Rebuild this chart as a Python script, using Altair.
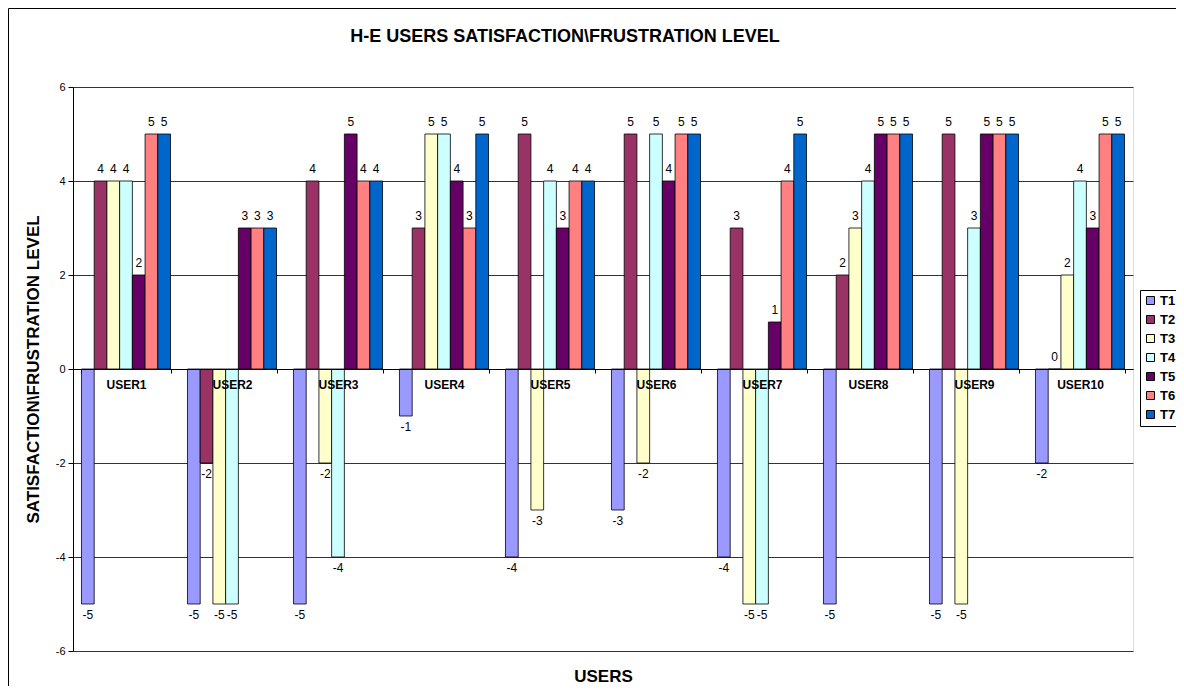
import altair as alt
import pandas as pd

users = ["USER1", "USER2", "USER3", "USER4", "USER5", "USER6", "USER7", "USER8", "USER9", "USER10"]
series = ["T1", "T2", "T3", "T4", "T5", "T6", "T7"]
T1 = [-5, -5, -5, -1, -4, -3, -4, -5, -5, -2]
T2 = [4, -2, 4, 3, 5, 5, 3, 2, 5, 0]
T3 = [4, -5, -2, 5, -3, -2, -5, 3, -5, 2]
T4 = [4, -5, -4, 5, 4, 5, -5, 4, 3, 4]
T5 = [2, 3, 5, 4, 3, 4, 1, 5, 5, 3]
T6 = [5, 3, 4, 3, 4, 5, 4, 5, 5, 5]
T7 = [5, 3, 4, 5, 4, 5, 5, 5, 5, 5]
colors = ["#9999FF", "#993366", "#FFFFCC", "#CCFFFF", "#660066", "#FF8080", "#0066CC"]
y_ticks = [-6, -4, -2, 0, 2, 4, 6]

vals = {"T1": T1, "T2": T2, "T3": T3, "T4": T4, "T5": T5, "T6": T6, "T7": T7}
rows = []
for s in series:
    for u, v in zip(users, vals[s]):
        rows.append({"user": u, "series": s, "value": v})
df = pd.DataFrame(rows)

FONT = "Liberation Sans"
W, H = 1060, 564

x_enc = alt.X(
    "user:N",
    sort=users,
    scale=alt.Scale(paddingInner=0.16, paddingOuter=0.08),
    axis=alt.Axis(
        title="USERS",
        offset=-H / 2,
        domainColor="#000000",
        domainWidth=1,
        tickColor="#000000",
        tickSize=4,
        tickBand="extent",
        labelAngle=0,
        labelFont=FONT,
        labelFontSize=12,
        labelFontWeight="bold",
        labelColor="#000000",
        labelPadding=6,
        titleFont=FONT,
        titleFontSize=17,
        titleFontWeight="bold",
        titleColor="#000000",
        titleY=H / 2 + 25,
        titleBaseline="middle",
        zindex=1,
        grid=False,
    ),
)
xo_enc = alt.XOffset("series:N", sort=series, scale=alt.Scale(paddingInner=0, paddingOuter=0))
y_scale = alt.Scale(domain=[-6, 6], nice=False)

bars = alt.Chart(df).mark_bar(stroke="#000000", strokeWidth=0.8).encode(
    x=x_enc,
    xOffset=xo_enc,
    y=alt.Y(
        "value:Q",
        scale=y_scale,
        axis=alt.Axis(
            title="SATISFACTION\\FRUSTRATION LEVEL",
            values=y_ticks,
            labelExpr="'' + datum.value",
            grid=True,
            gridColor="#333333",
            gridWidth=1,
            domainColor="#000000",
            tickColor="#000000",
            tickSize=5,
            labelFont=FONT,
            labelFontSize=11,
            labelColor="#000000",
            labelPadding=3,
            titleFont=FONT,
            titleFontSize=17,
            titleFontWeight="bold",
            titleColor="#000000",
            titleX=-40,
            titleY=H / 2,
            titleAngle=270,
            titleAlign="center",
            titleBaseline="middle",
        ),
    ),
    y2=alt.datum(0),
    color=alt.Color(
        "series:N",
        sort=series,
        scale=alt.Scale(domain=series, range=colors),
        legend=alt.Legend(
            title=None,
            orient="none",
            legendX=1067,
            legendY=203,
            strokeColor="#000000",
            fillColor="#FFFFFF",
            padding=4,
            symbolType="square",
            symbolSize=64,
            symbolStrokeColor="#000000",
            symbolStrokeWidth=1,
            labelFont=FONT,
            labelFontSize=13,
            labelFontWeight="bold",
            labelColor="#000000",
            labelOffset=3,
            rowPadding=5,
        ),
    ),
)

pos_labels = alt.Chart(df).transform_filter("datum.value >= 0").transform_calculate(
    lbl="'' + datum.value"
).mark_text(
    font=FONT, fontSize=12, color="#000000", baseline="bottom", dy=-5
).encode(
    x=alt.X("user:N", sort=users),
    xOffset=alt.XOffset("series:N", sort=series),
    y=alt.Y("value:Q", scale=y_scale),
    text="lbl:N",
)

neg_labels = alt.Chart(df).transform_filter("datum.value < 0").transform_calculate(
    lbl="'' + datum.value"
).mark_text(
    font=FONT, fontSize=12, color="#000000", baseline="top", dy=6
).encode(
    x=alt.X("user:N", sort=users),
    xOffset=alt.XOffset("series:N", sort=series),
    y=alt.Y("value:Q", scale=y_scale),
    text="lbl:N",
)

frame = alt.Chart(alt.Data(values=[{"a": 1}])).mark_rect(
    fillOpacity=0, stroke="#000000", strokeWidth=1
).encode(
    x=alt.value(-64.5), x2=alt.value(1200), y=alt.value(-78.5), y2=alt.value(700)
)

chart = alt.layer(frame, bars, pos_labels, neg_labels).properties(
    width=W,
    height=H,
    autosize=alt.AutoSizeParams(type="none"),
    padding={"left": 65, "top": 79, "right": 43, "bottom": 35},
    title=alt.TitleParams(
        "H-E USERS SATISFACTION\\FRUSTRATION LEVEL",
        font=FONT,
        fontSize=18,
        fontWeight="bold",
        color="#000000",
        anchor="middle",
        frame="group",
        dx=-38,
        offset=-38,
    ),
).configure_view(
    fill="#C0C0C0", stroke="#808080", strokeWidth=1
).configure(background="#FFFFFF")

chart.save("out.html", embed_options={"renderer": "svg", "actions": False})
